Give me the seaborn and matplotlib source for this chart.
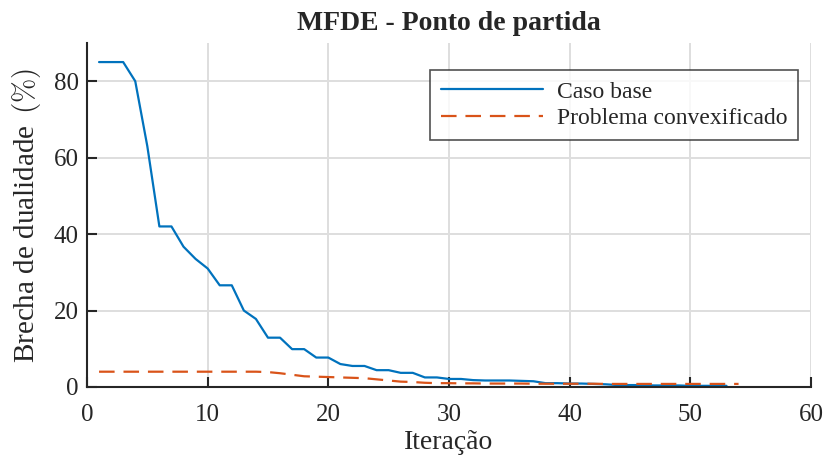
import matplotlib
matplotlib.use("Agg")
import matplotlib.pyplot as plt
import seaborn as sns
import pandas as pd

iter_base = list(range(1, 54))
gap_base = [85, 85, 85, 80, 63, 42, 42, 36.7, 33.5, 31, 26.6, 26.6, 20, 17.8, 12.9, 12.9,
            9.9, 9.9, 7.7, 7.7, 6.0, 5.5, 5.5, 4.4, 4.4, 3.7, 3.7, 2.5, 2.5, 2.1, 2.1, 1.8,
            1.7, 1.7, 1.7, 1.6, 1.5, 1.0, 1.0, 0.9, 0.9, 0.8, 0.7, 0.5, 0.5, 0.5, 0.4, 0.4,
            0.4, 0.3, 0.3, 0.3, 0.3]
iter_conv = list(range(1, 55))
gap_conv = [4.0] * 14 + [3.9, 3.6, 3.2, 2.8, 2.7, 2.6, 2.5, 2.4, 2.3, 2.0, 1.7, 1.4, 1.3,
                         1.1, 1.0, 1.0, 0.95, 0.95, 0.9, 0.9, 0.9, 0.9] + [0.85] * 6 + [0.8] * 12

labels = ["Caso base", "Problema convexificado"]
xticks = [0, 10, 20, 30, 40, 50, 60]
yticks = [0, 20, 40, 60, 80]

sns.set_theme(style="whitegrid")
plt.rcParams['font.family'] = ['Liberation Serif', 'DejaVu Serif']
plt.rcParams['mathtext.fontset'] = 'cm'

df = pd.concat([
    pd.DataFrame({"it": iter_base, "gap": gap_base, "serie": labels[0]}),
    pd.DataFrame({"it": iter_conv, "gap": gap_conv, "serie": labels[1]}),
])

fig = plt.figure(figsize=(8.26, 4.57), dpi=100)
ax = fig.add_axes([0.1053, 0.1532, 0.8765, 0.7528])
sns.lineplot(data=df, x="it", y="gap", hue="serie", style="serie",
             palette=["#0072BD", "#D95319"],
             dashes=["", (7, 4)],
             linewidth=1.6, ax=ax)

ax.set_xlim(0, 60)
ax.set_ylim(0, 90)
ax.set_xticks(xticks)
ax.set_yticks(yticks)
ax.grid(True, color="#DEDEDE", linewidth=1.4)
ax.set_facecolor("white")
for s in ["top", "right"]:
    ax.spines[s].set_visible(False)
for s in ["left", "bottom"]:
    ax.spines[s].set_visible(True)
    ax.spines[s].set_color("#262626")
    ax.spines[s].set_linewidth(1.5)
ax.tick_params(direction="in", length=7, width=1.5, colors="#262626",
               labelsize=18, left=True, bottom=True)
ax.tick_params(axis="x", pad=12)
ax.tick_params(axis="y", pad=6)
ax.set_xlabel("Iteração", fontsize=20, color="#262626", labelpad=3)
ax.set_ylabel(r"Brecha de dualidade $\,(\%)$", fontsize=21, color="#262626", labelpad=8)
ax.set_title("MFDE - Ponto de partida", fontsize=20, fontweight="bold", pad=9)

leg = ax.legend(loc="upper right", bbox_to_anchor=(0.982, 0.92), borderaxespad=0,
                fontsize=17, frameon=True, fancybox=False, edgecolor="#262626",
                handlelength=4.3, borderpad=0.45, labelspacing=0.2, handletextpad=0.6)
leg.get_frame().set_linewidth(1.2)
for h in leg.get_lines():
    h.set_linewidth(1.6)

fig.savefig("out.png", dpi=100)
